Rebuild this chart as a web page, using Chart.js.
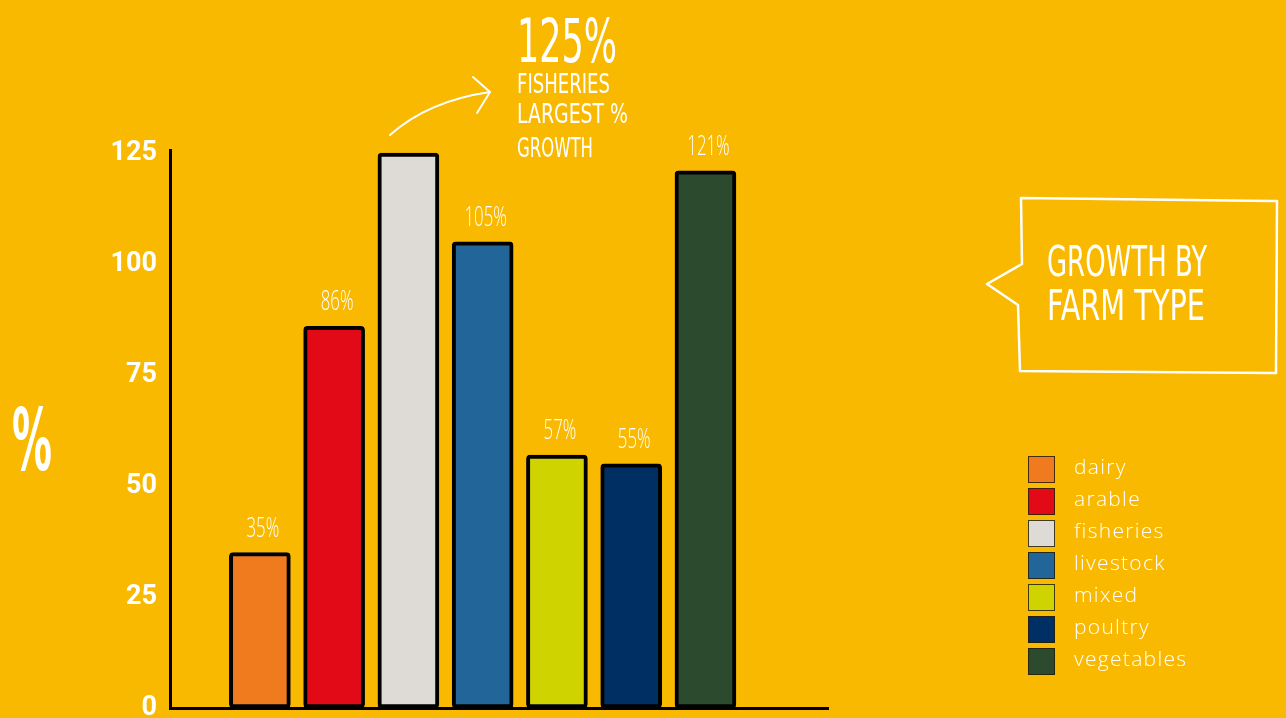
<!DOCTYPE html>
<html>
<head>
<meta charset="utf-8">
<title>Growth by farm type</title>
<script src="https://cdn.jsdelivr.net/npm/chart.js@4.4.1/dist/chart.umd.min.js"></script>
<style>
  html, body { margin: 0; padding: 0; background: #F9B900; }
  #wrap { position: relative; width: 1286px; height: 718px; overflow: hidden; background: #F9B900; }
  #growthChart { position: absolute; left: 0; top: 0; }
  #notes { position: absolute; left: 0; top: 0; pointer-events: none; }
  #legend { position: absolute; left: 1028px; top: 456px; margin: 0; padding: 0; list-style: none; }
  #legend li { height: 32px; display: flex; align-items: flex-start; }
  #legend .swatch { width: 27px; height: 27px; border: 1px solid rgba(40,30,0,0.85); box-sizing: border-box; }
  #legend .name { margin-left: 19px; margin-top: -4px; font: 300 21px "Open Sans", "DejaVu Sans", sans-serif; color: #fff; letter-spacing: 1.3px; }
</style>
</head>
<body>
<div id="wrap">
  <canvas id="growthChart" width="1286" height="718"></canvas>
  <svg id="notes" width="1286" height="718" xmlns="http://www.w3.org/2000/svg">
    <g fill="#fff" font-family="'Liberation Sans Narrow', 'DejaVu Sans Condensed', sans-serif">
      <text x="12" y="470" font-size="86" font-weight="bold" textLength="40" lengthAdjust="spacingAndGlyphs">%</text>
      <text id="headline" x="517" y="62" font-size="61" textLength="100" lengthAdjust="spacingAndGlyphs"></text>
      <text x="517" y="93" font-size="27" textLength="93" lengthAdjust="spacingAndGlyphs">FISHERIES</text>
      <text x="517" y="123" font-size="27" textLength="111" lengthAdjust="spacingAndGlyphs">LARGEST %</text>
      <text x="517" y="157" font-size="27" textLength="76" lengthAdjust="spacingAndGlyphs">GROWTH</text>
      <text x="1047" y="276" font-size="43" textLength="160" lengthAdjust="spacingAndGlyphs">GROWTH BY</text>
      <text x="1047" y="320" font-size="43" textLength="158" lengthAdjust="spacingAndGlyphs">FARM TYPE</text>
    </g>
    <g fill="none" stroke="#fff" stroke-width="2" stroke-linecap="round" stroke-linejoin="round">
      <path d="M390,135 Q428,101 490,92"/>
      <path d="M473,77 L490,92 L477,113"/>
      <path stroke-width="2.5" d="M1022,264 L1021,198 L1277,201 L1276,373 L1020,371 L1018,305 L987,284 Z"/>
    </g>
  </svg>
  <ul id="legend"></ul>
</div>

<script>
// growth per farm type, in %
const farmTypes = ['dairy', 'arable', 'fisheries', 'livestock', 'mixed', 'poultry', 'vegetables']
const growthPct = [35, 86, 125, 105, 57, 55, 121]
const barColors = ['#EF7B1E', '#E20A16', '#DEDAD6', '#226699', '#CFD300', '#002F63', '#2C4B2E']
// fisheries gets the big callout instead of a label over the bar
const showValue = [true, true, false, true, true, true, true]
const yTicks = [0, 25, 50, 75, 100, 125]

document.getElementById('headline').textContent = growthPct[2] + '%'

// legend list
const legend = document.getElementById('legend')
farmTypes.forEach((name, i) => {
  const li = document.createElement('li')
  li.innerHTML = '<span class="swatch" style="background:' + barColors[i] + '"></span><span class="name">' + name + '</span>'
  legend.appendChild(li)
})

// percentage labels above the bars, squeezed a bit to look condensed
const valueLabels = {
  id: 'valueLabels',
  afterDatasetsDraw(chart) {
    const ctx = chart.ctx
    const meta = chart.getDatasetMeta(0)
    ctx.save()
    ctx.fillStyle = '#fff'
    ctx.font = '300 28px "Open Sans", "DejaVu Sans Condensed", sans-serif'
    ctx.textAlign = 'center'
    ctx.textBaseline = 'alphabetic'
    meta.data.forEach((bar, i) => {
      if (!showValue[i]) return
      ctx.save()
      ctx.translate(bar.x + 3, bar.y - 16)
      ctx.scale(0.6, 1)
      ctx.fillText(growthPct[i] + '%', 0, 0)
      ctx.restore()
    })
    ctx.restore()
  }
}

const ctx = document.getElementById('growthChart')
const chart = new Chart(ctx, {
  type: 'bar',
  data: {
    datasets: [{
      label: 'growth',
      data: growthPct.map((v, i) => ({ x: i, y: v })),
      backgroundColor: barColors,
      borderColor: '#000',
      borderWidth: 4,
      borderRadius: 4,
      borderSkipped: false,
      barThickness: 61,
    }]
  },
  options: {
    responsive: false,
    animation: false,
    devicePixelRatio: 1,
    layout: { padding: { top: 150, right: 458, bottom: 10, left: 0 } },
    plugins: {
      legend: { display: false },
      tooltip: { enabled: false },
    },
    scales: {
      x: {
        type: 'linear',
        min: -1.21,
        max: 7.65,
        offset: false,
        grid: { display: false, drawTicks: false },
        ticks: { display: false },
        border: { display: true, color: '#000', width: 3 },
        afterFit: (scale) => {
          scale.height = 0
          scale.paddingLeft = 0
          scale.paddingRight = 0
        },
      },
      y: {
        min: 0,
        max: 125.7,
        grid: { display: false, drawTicks: false },
        border: { display: true, color: '#000', width: 3 },
        afterBuildTicks: (scale) => {
          scale.ticks = yTicks.map(v => ({ value: v }))
        },
        ticks: {
          color: '#fff',
          padding: 13,
          font: { family: 'Roboto', weight: 'bold', size: 27 },
        },
        afterFit: (scale) => {
          scale.width = 170
          scale.paddingTop = 0
          scale.paddingBottom = 0
        },
      }
    }
  },
  plugins: [valueLabels]
})
</script>
</body>
</html>
